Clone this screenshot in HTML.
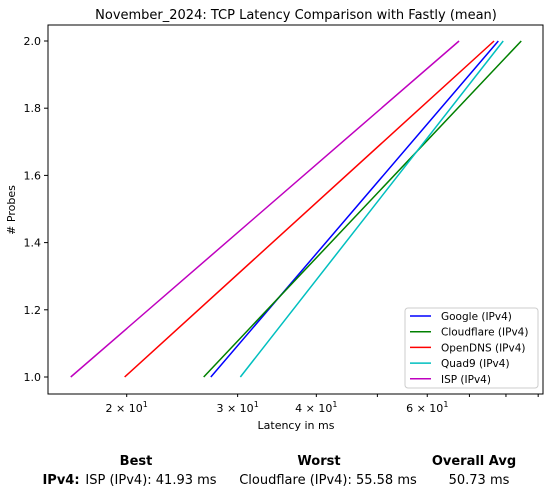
<!DOCTYPE html>
<html><head><meta charset="utf-8"><style>
body{margin:0;background:#fff;width:551px;height:494px;overflow:hidden;font-family:"Liberation Sans","DejaVu Sans",sans-serif}
svg text{font-family:"DejaVu Sans","Liberation Sans",sans-serif}
</style></head><body>
<svg id="chart" width="551" height="494">
<text x="296" y="19" font-size="13" text-anchor="middle">November_2024: TCP Latency Comparison with Fastly (mean)</text>
<rect x="48" y="25" width="495" height="369" fill="none" stroke="#000"/>
<g id="xticks"></g><g id="yticks"></g><g id="lines"></g>
<text x="296" y="429" font-size="11" text-anchor="middle">Latency in ms</text>
<text x="15" y="210" font-size="11" text-anchor="middle" transform="rotate(-90 15 210)"># Probes</text>
<g>
<rect x="405" y="308" width="133" height="80" rx="3" fill="#fff" stroke="#ccc"/>
<g id="legend"></g></g>
<g font-size="13" text-anchor="middle" font-weight="bold">
<text x="136" y="465">Best</text>
<text x="319" y="465">Worst</text>
<text x="474" y="465">Overall Avg</text>
<text x="61" y="484">IPv4:</text>
</g>
<g font-size="13" text-anchor="middle">
<text x="151" y="484">ISP (IPv4): 41.93 ms</text>
<text x="328" y="484">Cloudflare (IPv4): 55.58 ms</text>
<text x="479" y="484">50.73 ms</text>
</g>
</svg>
<script>
const seriesNames=["Google (IPv4)","Cloudflare (IPv4)","OpenDNS (IPv4)","Quad9 (IPv4)","ISP (IPv4)"];
const seriesColors=["#0000ff","#008000","#ff0000","#00bfbf","#bf00bf"];
const latencyAt1=[27.2,26.5,19.85,30.3,16.3];
const latencyAt2=[77.8,84.6,76.6,79.2,67.4];
const probeValues=[1,2];
const xTickValues=[20,30,40,50,60,70,80,90];
const xTickLabels=["2","3","4","","6","","",""];
const yTickValues=[1.0,1.2,1.4,1.6,1.8,2.0];
const NS="http://www.w3.org/2000/svg";
const xMin=15.0,xMax=91.6,L=48,R=543;
const x=v=>L+(Math.log(v)-Math.log(xMin))/(Math.log(xMax)-Math.log(xMin))*(R-L);
const y=v=>377-(v-1)*336;
function mk(t,a,p){const e=document.createElementNS(NS,t);for(const k in a)e.setAttribute(k,a[k]);p.appendChild(e);return e;}
const xt=document.getElementById('xticks');
xTickValues.forEach((v,i)=>{const l=mk('line',{x1:x(v),x2:x(v),y1:394,y2:397,stroke:'#000'},xt);


if(xTickLabels[i]){const t=mk('text',{x:x(v),y:412,'font-size':11,'text-anchor':'middle'},xt);


t.innerHTML=xTickLabels[i]+' × 10<tspan dy="-5" font-size="8">1</tspan>';}});
const yt=document.getElementById('yticks');
yTickValues.forEach(v=>{mk('line',{x1:44,x2:48,y1:y(v),y2:y(v),stroke:'#000'},yt);
const t=mk('text',{x:41,y:y(v)+4,'font-size':11,'text-anchor':'end'},yt);


t.textContent=v.toFixed(1);});
const lg=document.getElementById('lines'),leg=document.getElementById('legend');
seriesNames.forEach((n,i)=>{const l=mk('line',{x1:x(latencyAt1[i]),y1:y(probeValues[0]),x2:x(latencyAt2[i]),y2:y(probeValues[1]),stroke:seriesColors[i],'stroke-width':1.5},lg);


const yy=316+i*15.7;
mk('line',{x1:410,x2:431,y1:yy,y2:yy,stroke:seriesColors[i],'stroke-width':1.5},leg);
const t=mk('text',{x:441,y:yy+4,'font-size':10.5},leg);


t.textContent=n;});
</script>
</body></html>
